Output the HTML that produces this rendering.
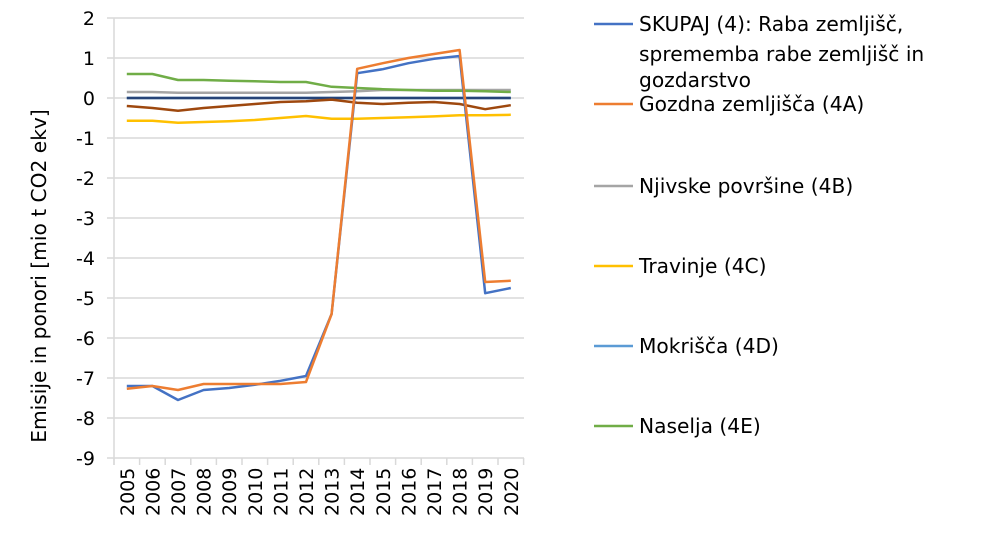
<!DOCTYPE html>
<html><head><meta charset="utf-8"><style>
body{margin:0;background:#fff}
svg text{font-family:"DejaVu Sans","Liberation Sans",sans-serif;fill:#000}
</style></head><body>
<svg width="997" height="550" viewBox="0 0 997 550" xmlns="http://www.w3.org/2000/svg">
<g stroke="#d9d9d9" stroke-width="1.5" id="grid"></g>
<g id="ylab" font-size="19" text-anchor="end"></g>
<g id="xlab" font-size="19"></g>
<text font-size="20.2" transform="translate(46,276) rotate(-90)" text-anchor="middle">Emisije in ponori [mio t CO2 ekv]</text>
<g id="series" fill="none" stroke-width="2.5" stroke-linejoin="round"></g>
<g font-size="20.2">
<line x1="594" y1="24" x2="633" y2="24" stroke="#4472c4" stroke-width="2.5"/>
<text x="639" y="31">SKUPAJ (4): Raba zemljišč,</text>
<text x="639" y="61">sprememba rabe zemljišč in</text>
<text x="639" y="87">gozdarstvo</text>
<line x1="594" y1="104" x2="633" y2="104" stroke="#ed7d31" stroke-width="2.5"/>
<text x="639" y="111">Gozdna zemljišča (4A)</text>
<line x1="594" y1="186" x2="633" y2="186" stroke="#a5a5a5" stroke-width="2.5"/>
<text x="639" y="193">Njivske površine (4B)</text>
<line x1="594" y1="266" x2="633" y2="266" stroke="#ffc000" stroke-width="2.5"/>
<text x="639" y="273">Travinje (4C)</text>
<line x1="594" y1="346" x2="633" y2="346" stroke="#5b9bd5" stroke-width="2.5"/>
<text x="639" y="353">Mokrišča (4D)</text>
<line x1="594" y1="426" x2="633" y2="426" stroke="#70ad47" stroke-width="2.5"/>
<text x="639" y="433">Naselja (4E)</text>
</g>
</svg>
<script>
const ns="http://www.w3.org/2000/svg";
function el(p,t,a,txt){const e=document.createElementNS(ns,t);for(const k in a)e.setAttribute(k,a[k]);if(txt!==undefined)e.textContent=txt;document.getElementById(p).appendChild(e);return e;}
const Y=v=>98-40*v, X=i=>114+12.8+25.6*i;
for(let v=2;v>=-9;v--){el("grid","line",{x1:107,x2:524,y1:Y(v),y2:Y(v)});el("ylab","text",{x:95,y:Y(v)+7},String(v));}
el("grid","line",{x1:114,x2:114,y1:18,y2:465});
for(let i=0;i<=16;i++){el("grid","line",{x1:114+25.6*i,x2:114+25.6*i,y1:458,y2:465});}
for(let i=0;i<16;i++){el("xlab","text",{transform:`translate(${X(i)+7},516) rotate(-90)`},String(2005+i));}
const S=[
["#a5a5a5",[0.15,0.15,0.13,0.13,0.13,0.13,0.13,0.13,0.15,0.17,0.2,0.2,0.2,0.2,0.2,0.2]],
["#70ad47",[0.6,0.6,0.45,0.45,0.43,0.42,0.4,0.4,0.28,0.25,0.22,0.2,0.18,0.18,0.17,0.15]],
["#5b9bd5",[0,0,0,0,0,0,0,0,0,0,0,0,0,0,0,0]],
["#264478",[0,0,0,0,0,0,0,0,0,0,0,0,0,0,0,0]],
["#9e480e",[-0.2,-0.25,-0.32,-0.25,-0.2,-0.15,-0.1,-0.08,-0.04,-0.12,-0.15,-0.12,-0.1,-0.15,-0.28,-0.18]],
["#ffc000",[-0.57,-0.57,-0.62,-0.6,-0.58,-0.55,-0.5,-0.45,-0.52,-0.52,-0.5,-0.48,-0.46,-0.43,-0.43,-0.42]],
["#4472c4",[-7.2,-7.2,-7.55,-7.3,-7.25,-7.17,-7.07,-6.95,-5.4,0.62,0.72,0.87,0.98,1.05,-4.88,-4.75]],
["#ed7d31",[-7.27,-7.2,-7.3,-7.15,-7.15,-7.15,-7.15,-7.1,-5.4,0.73,0.87,1.0,1.1,1.2,-4.6,-4.57]]];
for(const [c,d] of S){el("series","polyline",{stroke:c,points:d.map((v,i)=>X(i).toFixed(1)+","+Y(v).toFixed(1)).join(" ")});}
</script>
</body></html>
